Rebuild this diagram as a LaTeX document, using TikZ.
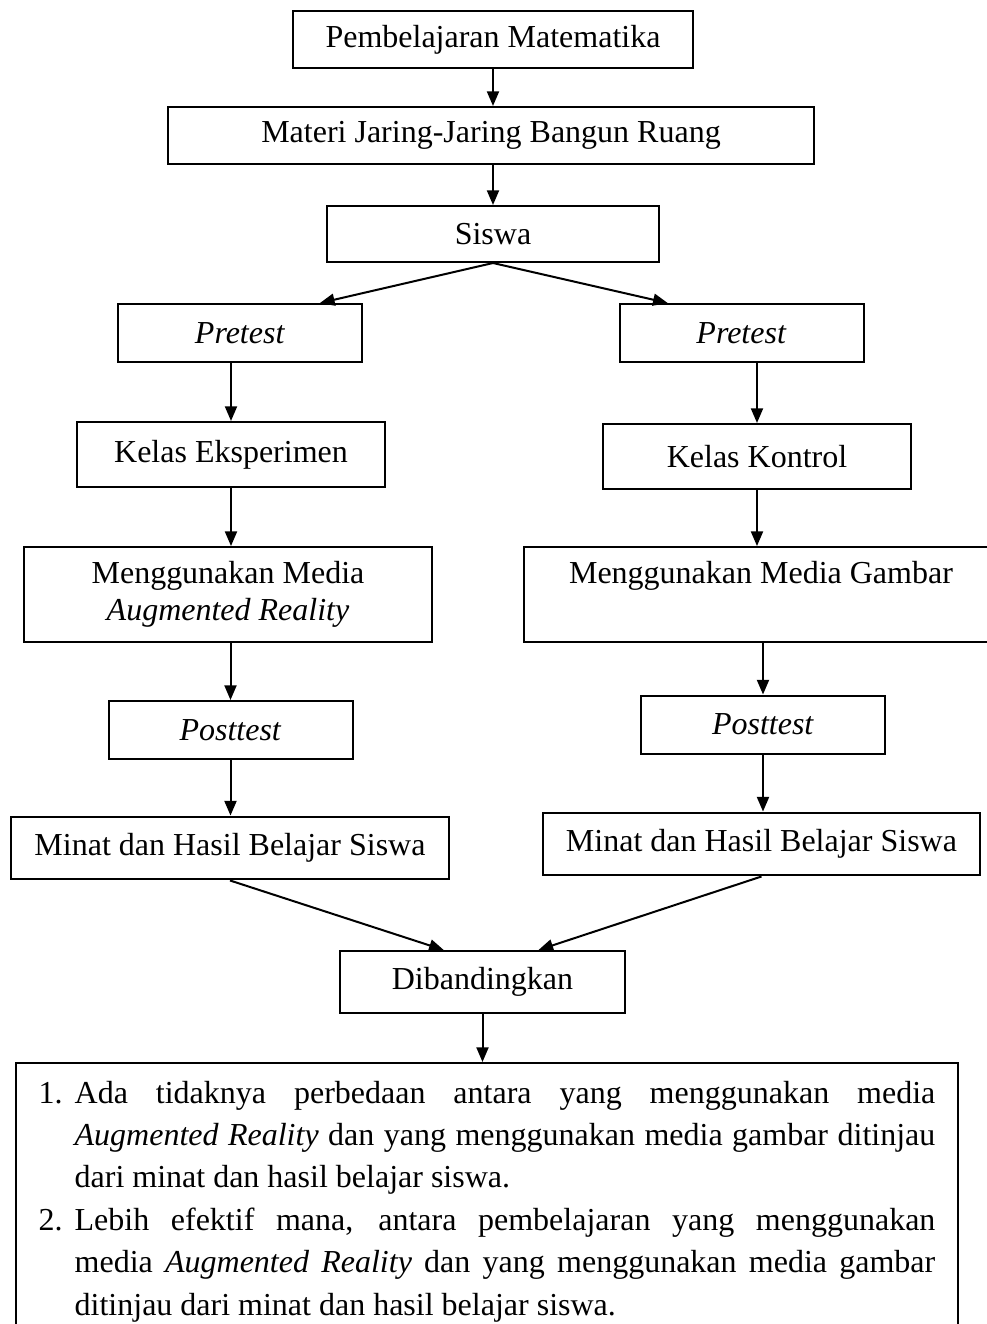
\documentclass[tikz,border=0pt]{standalone}
\usepackage{fontspec}
\setmainfont{Liberation Serif}
\usetikzlibrary{arrows.meta, positioning, calc}

\begin{document}
\begin{tikzpicture} [
    x=0.375pt, y=-0.375pt,
    font=\fontsize{12pt}{13.8pt}\selectfont,
    box/.style={rectangle, draw=black, line width=0.75pt, inner sep=2pt, align=center},
    testbox/.style={box, minimum width=91.5pt, minimum height=21.75pt},
    kelasbox/.style={box, minimum width=115.5pt, minimum height=24.4pt},
    mediabox/.style={box, minimum height=35.6pt},
    minatbox/.style={box, minimum width=164pt, minimum height=23.6pt},
    hasilbox/.style={rectangle, draw=black, line width=0.75pt, inner xsep=8.5pt, inner ysep=3.9pt, text width=336.25pt, align=justify, anchor=north, font=\fontsize{12pt}{15.9pt}\selectfont},
    arrow/.style={-{Triangle[length=5.5pt, width=4.5pt]}, line width=0.75pt}
]
\useasboundingbox (0,0) rectangle (987,1324);

% top of the chart
\node[box, minimum width=150pt, minimum height=21.4pt] (pemb) at (493,39.5) {Pembelajaran Matematika};
\node[box, minimum width=242.6pt, minimum height=21.4pt] (materi) at (491,135.5) {Materi Jaring-Jaring Bangun Ruang};
\node[box, minimum width=124.5pt, minimum height=21pt] (siswa) at (493,234) {Siswa};

% left branch
\node[testbox] (preL) at (240,333) {\textit{Pretest}};
\node[kelasbox] (ekspL) at (231,454.5) {Kelas Eksperimen};
\node[mediabox, minimum width=153pt] (arL) at (228,594.5) {Menggunakan Media\\\textit{Augmented Reality}};
\node[testbox] (postL) at (230.5,730) {\textit{Posttest}};
\node[minatbox] (minatL) at (230,848) {Minat dan Hasil Belajar Siswa};

% right branch
\node[testbox] (preR) at (741.5,333) {\textit{Pretest}};
\node[kelasbox] (kontrol) at (757,456.5) {Kelas Kontrol};
\node[mediabox, minimum width=177.75pt] (gambar) at (761,594.5) {Menggunakan Media Gambar\\\vphantom{Ay}};
\node[testbox] (postR) at (763,724.5) {\textit{Posttest}};
\node[minatbox] (minatR) at (761.5,844) {Minat dan Hasil Belajar Siswa};

% bottom
\node[box, minimum width=106.9pt, minimum height=23.25pt] (banding) at (482.5,982) {Dibandingkan};
\node[hasilbox] (hasil) at (487,1062) {%
    \noindent\hangindent=13.5pt\hangafter=1\strut\makebox[13.5pt][l]{1.}Ada tidaknya perbedaan antara yang menggunakan media\linebreak
    \textit{Augmented Reality} dan yang menggunakan media gambar ditinjau\linebreak
    dari minat dan hasil belajar siswa.\par
    \noindent\hangindent=13.5pt\hangafter=1\makebox[13.5pt][l]{2.}Lebih efektif mana, antara pembelajaran yang menggunakan\linebreak
    media \textit{Augmented Reality} dan yang menggunakan media gambar\linebreak
    ditinjau dari minat dan hasil belajar siswa.\strut\par
};

% arrows
\draw[arrow] (pemb.south) -- (pemb.south |- materi.north);
\draw[arrow] (materi.south -| siswa.north) -- (siswa.north);
\draw[arrow] (siswa.south) -- ($(preL.north)!0.65!(preL.north east)$);
\draw[arrow] (siswa.south) -- ($(preR.north)!0.6!(preR.north west)$);
\draw[arrow] (ekspL.north |- preL.south) -- (ekspL.north);
\draw[arrow] (kontrol.north |- preR.south) -- (kontrol.north);
\draw[arrow] (ekspL.south) -- (ekspL.south |- arL.north);
\draw[arrow] (kontrol.south) -- (kontrol.south |- gambar.north);
\draw[arrow] (postL.north |- arL.south) -- (postL.north);
\draw[arrow] (postR.north |- gambar.south) -- (postR.north);
\draw[arrow] (postL.south) -- (postL.south |- minatL.north);
\draw[arrow] (postR.south) -- (postR.south |- minatR.north);
\draw[arrow] (minatL.south) -- ($(banding.north)!0.27!(banding.north west)$);
\draw[arrow] (minatR.south) -- ($(banding.north)!0.39!(banding.north east)$);
\draw[arrow] (banding.south) -- (banding.south |- hasil.north);

\end{tikzpicture}
\end{document}
